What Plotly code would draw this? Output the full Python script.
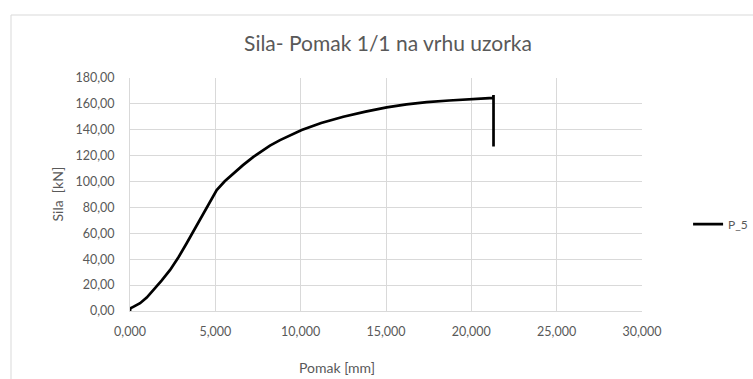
import plotly.graph_objects as go

# Load-displacement record of specimen P_5
pomak_mm = [0.00, 0.02, 0.19, 0.59, 0.98, 1.37, 1.85, 2.35, 2.84, 3.32, 3.81, 4.30,
            4.70, 5.08, 5.55, 6.06, 6.62, 7.23, 7.62, 8.20, 8.79, 9.40, 10.06,
            11.20, 12.50, 13.80, 15.04, 16.20, 17.39, 18.70, 20.06, 21.20,
            21.28, 21.30, 21.31, 21.29, 21.30]
sila_kn = [0.0, 2.0, 3.2, 6.0, 10.4, 16.2, 23.5, 31.7, 41.5, 52.3, 63.8, 75.4,
           84.8, 93.4, 100.2, 106.3, 112.7, 119.1, 122.8, 127.8, 132.0, 135.9, 139.8,
           145.2, 150.1, 154.0, 157.3, 159.6, 161.4, 162.6, 163.5, 164.0,
           164.6, 166.8, 127.5, 140.0, 127.0]

series_name = "P_5"
chart_title = "Sila- Pomak 1/1 na vrhu uzorka"
x_title = "Pomak [mm]"
y_title = "Sila  [kN]"

FONT = "Lato"
GREY = "#595959"

fig = go.Figure()
fig.add_trace(go.Scatter(
    x=pomak_mm, y=sila_kn, mode="lines", name=series_name,
    line=dict(color="#000000", width=2.7),
))

fig.update_layout(
    width=753, height=379,
    margin=dict(l=130, r=111, t=78, b=68, autoexpand=False),
    paper_bgcolor="white", plot_bgcolor="white",
    separators=", ",
    font=dict(family=FONT, color=GREY, size=12),
    showlegend=True,
    legend=dict(x=1.09, y=0.373, xanchor="left", yanchor="middle",
                font=dict(size=12, color=GREY), bgcolor="rgba(0,0,0,0)",
                itemwidth=30),
    title=dict(text=chart_title, x=388 / 753, xanchor="center",
               y=1 - 44 / 379, yanchor="middle",
               font=dict(size=21, color=GREY, family=FONT)),
)

fig.update_xaxes(
    range=[0, 30], dtick=5, tick0=0, tickformat=".3f",
    showgrid=True, gridcolor="#d9d9d9", gridwidth=1,
    showline=True, linecolor="#d9d9d9", linewidth=1, mirror=False,
    zeroline=False, ticks="", ticklabelstandoff=9,
    tickfont=dict(size=12.5, color=GREY), automargin=False,
)
fig.update_yaxes(
    range=[0, 180], dtick=20, tick0=0, tickformat=".2f",
    showgrid=True, gridcolor="#d9d9d9", gridwidth=1,
    showline=True, linecolor="#d9d9d9", linewidth=1,
    zeroline=False, ticks="", ticklabelstandoff=12,
    tickfont=dict(size=12.5, color=GREY), automargin=False,
)

# Axis titles
fig.add_annotation(text=x_title, xref="paper", yref="paper",
                   x=(337 - 130) / 512, y=-(367 - 311) / 233,
                   xanchor="center", yanchor="middle", showarrow=False,
                   font=dict(size=14, color=GREY, family=FONT))
fig.add_annotation(text=y_title, xref="paper", yref="paper",
                   x=-(130 - 57) / 512, y=0.5, textangle=-90,
                   xanchor="center", yanchor="middle", showarrow=False,
                   font=dict(size=14, color=GREY, family=FONT))

# Chart-area frame
fig.add_shape(type="rect", xref="paper", yref="paper",
              x0=-(130 - 11) / 512, x1=(760 - 130) / 512,
              y0=-(400 - 311) / 233, y1=(311 - 15) / 233,
              line=dict(color="#d9d9d9", width=1), fillcolor="rgba(0,0,0,0)",
              layer="below")

fig.write_html("out.html")
